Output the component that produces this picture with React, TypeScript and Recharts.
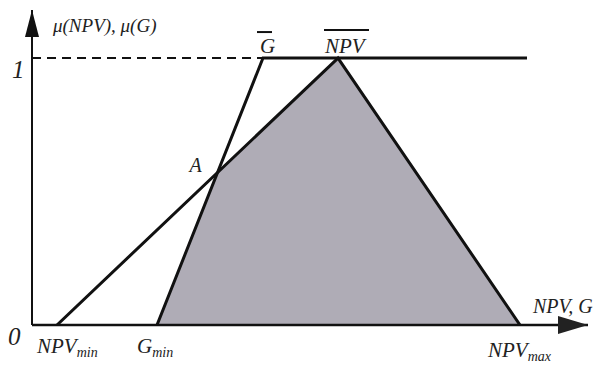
import { ComposedChart, Line, Area, XAxis, YAxis, ReferenceLine, ReferenceDot } from 'recharts'

// abscissa values (same units on the NPV / G axis)
const NPV_MIN = 5
const NPV_PEAK = 61.2
const NPV_MAX = 97.6
const G_MIN = 25
const G_TOP = 46.2
const G_END = 99
const X_END = 111.2
const Y_END = 1.18

const npvPoints = [
  { x: NPV_MIN, y: 0 },
  { x: NPV_PEAK, y: 1 },
  { x: NPV_MAX, y: 0 },
]
const gPoints = [
  { x: G_MIN, y: 0 },
  { x: G_TOP, y: 1 },
  { x: G_END, y: 1 },
]
const dashedOne = [
  { x: 0, y: 1 },
  { x: G_TOP, y: 1 },
]

// point A: where the rising NPV edge meets the rising G edge
const kNpv = 1 / (NPV_PEAK - NPV_MIN)
const kG = 1 / (G_TOP - G_MIN)
const aX = (kG * G_MIN - kNpv * NPV_MIN) / (kG - kNpv)
const aY = kNpv * (aX - NPV_MIN)

const shaded = [
  { x: G_MIN, y: 0 },
  { x: aX, y: aY },
  { x: NPV_PEAK, y: 1 },
  { x: NPV_MAX, y: 0 },
]

const FONT = '"Liberation Serif", "Times New Roman", serif'

function TextAt({ cx, cy, children, dx = 0, dy = 0, size = 21, anchor = 'start' }: any) {
  return (
    <text x={cx + dx} y={cy + dy} textAnchor={anchor}
      style={{ fontFamily: FONT, fontStyle: 'italic', fontSize: size, fill: '#222' }}>
      {children}
    </text>
  )
}

function Sub({ main, sub }: { main: string; sub: string }) {
  return (
    <>
      <tspan>{main}</tspan>
      <tspan style={{ fontSize: 14 }} dy={4}>{sub}</tspan>
    </>
  )
}

export default function App() {
  return (
    <div style={{ position: 'absolute', left: 0, top: 0, background: '#fff' }}>
      <ComposedChart width={594} height={365} margin={{ top: 10, right: 6, bottom: 40, left: 32 }}>
        <XAxis type="number" dataKey="x" domain={[0, X_END]} hide allowDataOverflow />
        <YAxis type="number" dataKey="y" domain={[0, Y_END]} hide allowDataOverflow />
        <Area data={shaded} dataKey="y" type="linear" stroke="none" fill="#afacb6" fillOpacity={1} baseValue={0} isAnimationActive={false} />
        <Line data={dashedOne} dataKey="y" type="linear" stroke="#111" strokeWidth={2} strokeDasharray="9 6" dot={false} isAnimationActive={false} />
        <Line data={npvPoints} dataKey="y" type="linear" stroke="#111" strokeWidth={3} dot={false} isAnimationActive={false} />
        <Line data={gPoints} dataKey="y" type="linear" stroke="#111" strokeWidth={3} dot={false} isAnimationActive={false} />
        <ReferenceLine x={0} stroke="#111" strokeWidth={2} ifOverflow="visible" />
        <ReferenceLine y={0} stroke="#111" strokeWidth={2.5} ifOverflow="visible" />
        <ReferenceDot x={0} y={Y_END} ifOverflow="visible"
          shape={(p: any) => <polygon points={`${p.cx},${p.cy} ${p.cx - 7},${p.cy + 27} ${p.cx + 7},${p.cy + 27}`} fill="#111" />} />
        <ReferenceDot x={X_END} y={0} ifOverflow="visible"
          shape={(p: any) => <polygon points={`${p.cx},${p.cy} ${p.cx - 30},${p.cy - 9} ${p.cx - 30},${p.cy + 9}`} fill="#222" />} />
        {/* labels */}
        <ReferenceDot x={0} y={Y_END} ifOverflow="visible"
          shape={(p: any) => <TextAt {...p} dx={21} dy={22} size={19}>μ(NPV), μ(G)</TextAt>} />
        <ReferenceDot x={0} y={1} ifOverflow="visible"
          shape={(p: any) => <TextAt {...p} dx={-20} dy={20} size={25}>1</TextAt>} />
        <ReferenceDot x={0} y={0} ifOverflow="visible"
          shape={(p: any) => <TextAt {...p} dx={-24} dy={20} size={25}>0</TextAt>} />
        <ReferenceDot x={NPV_MIN} y={0} ifOverflow="visible"
          shape={(p: any) => <TextAt {...p} dx={-20} dy={28}><Sub main="NPV" sub="min" /></TextAt>} />
        <ReferenceDot x={G_MIN} y={0} ifOverflow="visible"
          shape={(p: any) => <TextAt {...p} dx={-20} dy={28}><Sub main="G" sub="min" /></TextAt>} />
        <ReferenceDot x={NPV_MAX} y={0} ifOverflow="visible"
          shape={(p: any) => <TextAt {...p} dx={-32} dy={32}><Sub main="NPV" sub="max" /></TextAt>} />
        <ReferenceDot x={X_END} y={0} ifOverflow="visible"
          shape={(p: any) => <TextAt {...p} dx={-55} dy={-12} size={20}>NPV, G</TextAt>} />
        <ReferenceDot x={aX} y={aY} ifOverflow="visible"
          shape={(p: any) => <TextAt {...p} dx={-28} dy={0} size={20}>A</TextAt>} />
        <ReferenceDot x={G_TOP} y={1} ifOverflow="visible"
          shape={(p: any) => (
            <g>
              <line x1={p.cx - 6} x2={p.cx + 9} y1={p.cy - 26} y2={p.cy - 26} stroke="#111" strokeWidth={2} />
              <TextAt {...p} dx={-3} dy={-5} size={21}>G</TextAt>
            </g>
          )} />
        <ReferenceDot x={NPV_PEAK} y={1} ifOverflow="visible"
          shape={(p: any) => (
            <g>
              <line x1={p.cx - 14} x2={p.cx + 31} y1={p.cy - 28} y2={p.cy - 28} stroke="#111" strokeWidth={2} />
              <TextAt {...p} dx={-13} dy={-5} size={21}>NPV</TextAt>
            </g>
          )} />
      </ComposedChart>
    </div>
  )
}
